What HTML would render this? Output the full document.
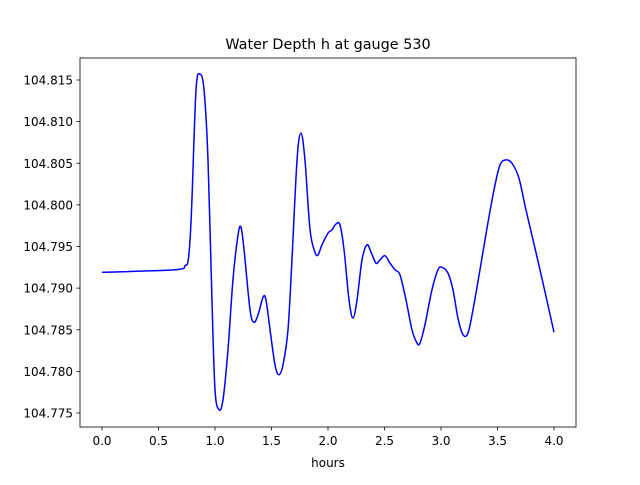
<!DOCTYPE html>
<html><head><meta charset="utf-8"><style>
body{margin:0;background:#fff;}
svg text{font-family:"DejaVu Sans","Liberation Sans",sans-serif;fill:#000;}
</style></head><body>
<svg id="chart" width="640" height="480" viewBox="0 0 640 480" xmlns="http://www.w3.org/2000/svg">
<rect width="640" height="480" fill="#fff"/>
<text x="328" y="49" text-anchor="middle" font-size="14.4">Water Depth h at gauge 530</text>
<g id="ticks"></g>
<path id="series" fill="none" stroke="#0000ff" stroke-width="1.5"/>
<rect x="80" y="58" width="496" height="369" fill="none" stroke="#000" stroke-width="0.8"/>
<text x="328" y="467" text-anchor="middle" font-size="12">hours</text>
</svg>
<script>
const hours=[0,0.646,0.735,0.761,0.78,0.796,0.832,0.867,0.903,0.938,0.973,1.0,1.035,1.071,1.115,1.159,1.204,1.230,1.257,1.310,1.345,1.381,1.425,1.451,1.487,1.531,1.566,1.602,1.646,1.681,1.726,1.761,1.796,1.841,1.885,1.912,1.947,2.0,2.035,2.071,2.106,2.142,2.186,2.221,2.257,2.301,2.345,2.381,2.425,2.460,2.504,2.549,2.593,2.637,2.690,2.743,2.788,2.814,2.858,2.920,2.973,3.009,3.062,3.106,3.150,3.195,3.239,3.283,3.345,3.407,3.469,3.522,3.575,3.628,3.690,3.752,3.876,4.0];
const depth=[104.7919,104.7922,104.7927,104.7932,104.7960,104.8006,104.8138,104.8157,104.8138,104.8054,104.7886,104.7778,104.7754,104.7766,104.7826,104.7910,104.7964,104.7973,104.7946,104.7874,104.7859,104.7868,104.7889,104.7886,104.7850,104.7808,104.7796,104.7808,104.7850,104.7934,104.8054,104.8086,104.8054,104.7970,104.7943,104.7940,104.7952,104.7966,104.7970,104.7977,104.7976,104.7946,104.7886,104.7864,104.7886,104.7934,104.7952,104.7943,104.7930,104.7934,104.7939,104.7930,104.7922,104.7916,104.7886,104.7850,104.7834,104.7834,104.7856,104.7898,104.7922,104.7925,104.7918,104.7898,104.7864,104.7844,104.7846,104.7874,104.7922,104.7972,104.8018,104.8048,104.8054,104.8050,104.8032,104.7994,104.7922,104.7847];
const xTicks=[0,0.5,1,1.5,2,2.5,3,3.5,4];
const xTickLabels=["0.0","0.5","1.0","1.5","2.0","2.5","3.0","3.5","4.0"];
const yTicks=[104.775,104.78,104.785,104.79,104.795,104.8,104.805,104.81,104.815];
const yTickLabels=["104.775","104.780","104.785","104.790","104.795","104.800","104.805","104.810","104.815"];
const xs=h=>102+h*113;
const ys=v=>413-(v-104.775)/0.005*41.625;
const NS="http://www.w3.org/2000/svg";
const g=document.getElementById('ticks');
function mk(t,a){const e=document.createElementNS(NS,t);for(const k in a)e.setAttribute(k,a[k]);return e;}
xTicks.forEach((t,i)=>{
 const l=mk('line',{x1:xs(t),x2:xs(t),y1:427,y2:430.5,stroke:'#000','stroke-width':0.8});
 
 
 g.appendChild(l);
 const tx=mk('text',{x:xs(t),y:445,'text-anchor':'middle','font-size':12});
 
 
 tx.textContent=xTickLabels[i];g.appendChild(tx);
});
yTicks.forEach((t,i)=>{
 const l=mk('line',{x1:76.5,x2:80,y1:ys(t),y2:ys(t),stroke:'#000','stroke-width':0.8});
 
 
 g.appendChild(l);
 const tx=mk('text',{x:73,y:ys(t)+4.5,'text-anchor':'end','font-size':12});
 
 
 tx.textContent=yTickLabels[i];g.appendChild(tx);
});
const P=hours.map((h,i)=>[xs(h),ys(depth[i])]);
let d=`M${P[0][0]},${P[0][1]}`;
for(let i=0;i<P.length-1;i++){
 const p0=P[Math.max(0,i-1)],p1=P[i],p2=P[i+1],p3=P[Math.min(P.length-1,i+2)];
 const c1=[p1[0]+(p2[0]-p0[0])/6,p1[1]+(p2[1]-p0[1])/6];
 const c2=[p2[0]-(p3[0]-p1[0])/6,p2[1]-(p3[1]-p1[1])/6];
 d+=` C${c1[0]},${c1[1]} ${c2[0]},${c2[1]} ${p2[0]},${p2[1]}`;
}
document.getElementById('series').setAttribute('d',d);
</script>
</body></html>
